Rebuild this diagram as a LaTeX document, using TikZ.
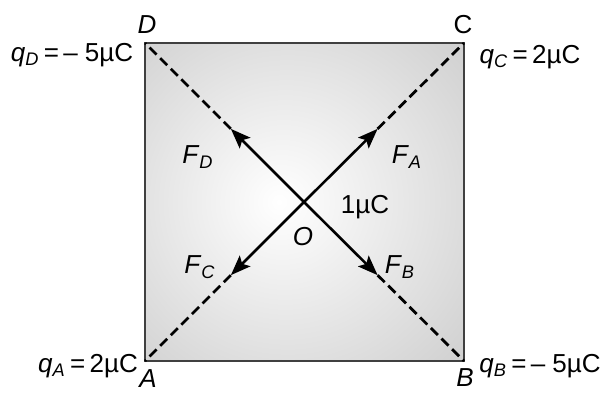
\documentclass[tikz,border=0pt]{standalone}
\usepackage{fontspec}
\setmainfont{Liberation Sans}
\usetikzlibrary{arrows.meta,calc}

% light centre, grey rim
\pgfdeclareradialshading{sqshade}{\pgfpoint{-4bp}{0bp}}{%
  color(0bp)=(white); color(10bp)=(white!95!black);
  color(50bp)=(black!25); color(72bp)=(black!31)}

\begin{document}
\begin{tikzpicture}[x=0.5pt,y=-0.5pt]
  % Styling
  \tikzset{
    sqbox/.style={
      draw=black!75,
      line width=1pt,
      shading=sqshade
    },
    guide/.style={
      dash pattern=on 5pt off 2.5pt,
      line width=1.4pt,
      black
    },
    force/.style={
      -{Stealth[length=10pt,width=7.5pt,inset=2pt]},
      line width=1.3pt,
      black
    },
    label/.style={
      font=\fontsize{13}{15}\selectfont,
      inner sep=0pt,
      black
    }
  }
  \useasboundingbox (0,0) rectangle (604,392);

  % ===== Square =====
  \coordinate (A) at (145,361);
  \coordinate (B) at (464,361);
  \coordinate (C) at (464,43);
  \coordinate (D) at (145,43);
  \coordinate (O) at (304,202);
  \draw[sqbox] (A) rectangle (C);

  % Diagonals and forces
  \foreach \c in {A,B,C,D} {
    \coordinate (t\c) at ($(O)!0.46!(\c)$);
    \draw[guide] (t\c) -- (\c);
    \draw[force] (O) -- (t\c);
  }

  % Corner labels
  \node[label] (labD) at (147,25) {\textit{D}};
  \node[label] (labC) at (463,25) {C};
  \node[label] (labA) at (148,379) {\textit{A}};
  \node[label] (labB) at (465,378) {\textit{B}};

  % Charges
  \node[label] (qD) at (72,55) {\textit{q}\textsubscript{\textit{D}}\,=\,– 5µC};
  \node[label] (qC) at (530,57) {\textit{q}\textsubscript{\textit{C}}\,=\,2µC};
  \node[label] (qA) at (88,366) {\textit{q}\textsubscript{\textit{A}}\,=\,2µC};
  \node[label] (qB) at (540,366) {\textit{q}\textsubscript{\textit{B}}\,=\,– 5µC};
  \node[label] (qO) at (365,207) {1µC};
  \node[label] (labO) at (303,237) {\textit{O}};

  % Force labels
  \node[label] (fD) at (198,157) {\textit{F}\textsubscript{\textit{D}}};
  \node[label] (fA) at (407,157) {\textit{F}\textsubscript{\textit{A}}};
  \node[label] (fC) at (200,267) {\textit{F}\textsubscript{\textit{C}}};
  \node[label] (fB) at (400,267) {\textit{F}\textsubscript{\textit{B}}};

\end{tikzpicture}
\end{document}
